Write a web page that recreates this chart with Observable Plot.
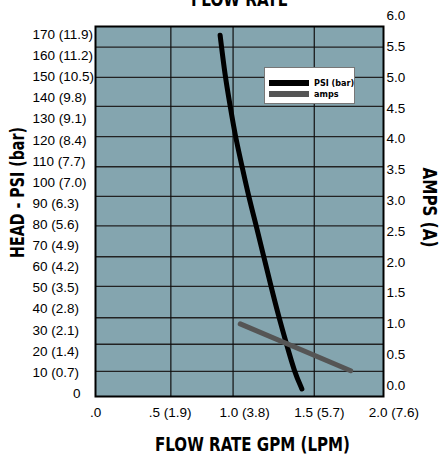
<!DOCTYPE html>
<html>
<head>
<meta charset="utf-8">
<script src="https://cdn.jsdelivr.net/npm/d3@7"></script>
<script src="https://cdn.jsdelivr.net/npm/@observablehq/plot@0.6"></script>
<style>
  html, body { margin: 0; padding: 0; background: #fff; }
  #wrap { position: relative; width: 439px; height: 454px; overflow: hidden; }
  .legend { position: absolute; left: 264px; top: 67px; width: 91px; height: 37px;
    background: #fff; border: 1px solid #777; box-sizing: border-box;
    font-family: "DejaVu Sans Condensed", "Liberation Sans", sans-serif;
    font-weight: bold; font-size: 9px; color: #000; white-space: nowrap; }
  .legend .row { position: absolute; left: 4px; height: 12px; line-height: 12px; display: flex; align-items: center; }
  .legend .sw { width: 40px; height: 6px; margin-right: 5px; flex: none; }
</style>
</head>
<body>
<div id="wrap"></div>
<script>
// Flow rate (GPM) ticks and labels
const flowTicks = [0, 0.5, 1.0, 1.5, 2.0];
const flowLabels = [".0", ".5 (1.9)", "1.0 (3.8)", "1.5 (5.7)", "2.0 (7.6)"];
// Head (PSI) ticks and labels (bar)
const psiTicks = [170, 160, 150, 140, 130, 120, 110, 100, 90, 80, 70, 60, 50, 40, 30, 20, 10];
const psiLabels = ["170 (11.9)", "160 (11.2)", "150 (10.5)", "140 (9.8)", "130 (9.1)", "120 (8.4)",
  "110 (7.7)", "100 (7.0)", "90 (6.3)", "80 (5.6)", "70 (4.9)", "60 (4.2)", "50 (3.5)",
  "40 (2.8)", "30 (2.1)", "20 (1.4)", "10 (0.7)"];
const psiZero = [0];
// Amps ticks
const ampTicks = [6.0, 5.5, 5.0, 4.5, 4.0, 3.5, 3.0, 2.5, 2.0, 1.5, 1.0, 0.5, 0.0];
// Grid lines as drawn in the source chart
const gridFlow = [0.505, 0.922, 1.466];
const gridAmps = [5.49, 5.0, 4.53, 4.04, 3.55, 3.07, 2.59, 2.09, 1.61, 1.10, 0.67, 0.23];
// PSI curve
const psiFlow = [0.835, 0.868, 0.902, 0.936, 0.981, 1.025, 1.077, 1.126, 1.175, 1.226, 1.283, 1.334, 1.383];
const psiHead = [169.8, 150.6, 136.4, 122.2, 108.0, 93.8, 79.5, 65.3, 51.1, 36.9, 22.7, 10.1, 2.2];
// Amps line
const ampFlow = [0.97, 1.71];
const ampValue = [1.0, 0.24];

// secondary-axis conversion: PSI expressed on the amps scale
const psiToAmps = p => (p - 3.79) / 29.2;

const psiData = psiFlow.map((f, i) => ({flow: f, psi: psiHead[i]}));
const ampData = ampFlow.map((f, i) => ({flow: f, amps: ampValue[i]}));
const psiTickData = psiTicks.map((p, i) => ({psi: p, label: psiLabels[i]}));
const flowTickData = flowTicks.map((f, i) => ({flow: f, label: flowLabels[i]}));

const tickFont = "'Liberation Sans', Arial, sans-serif";
const boldFont = "'DejaVu Sans Condensed', 'Liberation Sans', sans-serif";

const chart = Plot.plot({
  width: 439, height: 454,
  marginLeft: 95, marginRight: 56, marginTop: 26, marginBottom: 58,
  x: {domain: [0, 1.93], axis: null},
  y: {domain: [-0.178, 5.826], axis: null},
  style: {background: "#fff", fontFamily: tickFont},
  marks: [
    Plot.frame({fill: "#84a5af", stroke: "none"}),
    Plot.ruleY(gridAmps, {stroke: "#222", strokeWidth: 1.3}),
    Plot.ruleX(gridFlow, {stroke: "#111", strokeWidth: 1.2}),
    Plot.frame({stroke: "#000", strokeWidth: 2}),
    Plot.line(psiData, {x: "flow", y: d => psiToAmps(d.psi), stroke: "#000", strokeWidth: 5, curve: "basis"}),
    Plot.line(ampData, {x: "flow", y: "amps", stroke: "#555", strokeWidth: 5}),
    // left tick labels
    Plot.text(psiTickData, {y: d => psiToAmps(d.psi), text: "label", frameAnchor: "left", textAnchor: "start", dx: -63, fontSize: 13.5, fill: "#000"}),
    Plot.text(psiZero, {y: d => psiToAmps(d), text: d => String(d), frameAnchor: "left", textAnchor: "end", dx: -15, fontSize: 13.5, fill: "#000"}),
    // right tick labels
    Plot.text(ampTicks, {y: d => d, text: d => d.toFixed(1), frameAnchor: "right", textAnchor: "start", dx: 3, fontSize: 13.5, fill: "#000"}),
    // bottom tick labels
    Plot.text(flowTickData, {x: "flow", text: "label", frameAnchor: "bottom", lineAnchor: "top", dy: 11, fontSize: 13.5, fill: "#000"}),
    // titles
    Plot.text(["FLOW RATE"], {frameAnchor: "top", textAnchor: "middle", lineAnchor: "bottom", dy: -21, fontSize: 19, fontWeight: "bold", fontFamily: boldFont, fill: "#000"}),
    Plot.text(["FLOW RATE GPM (LPM)"], {frameAnchor: "bottom", textAnchor: "middle", lineAnchor: "bottom", dy: 54, dx: 13, fontSize: 19, fontWeight: "bold", fontFamily: boldFont, fill: "#000"}),
    Plot.text(["HEAD - PSI (bar)"], {frameAnchor: "left", textAnchor: "middle", rotate: -90, dx: -78, dy: -19, fontSize: 19, fontWeight: "bold", fontFamily: boldFont, fill: "#000"}),
    Plot.text(["AMPS (A)"], {frameAnchor: "right", textAnchor: "middle", rotate: 90, dx: 46, dy: -4, fontSize: 19, fontWeight: "bold", fontFamily: boldFont, fill: "#000"})
  ]
});

// compress the condensed bold titles to the width they have in the source chart
const titleWidths = {"FLOW RATE": 97, "FLOW RATE GPM (LPM)": 195, "HEAD - PSI (bar)": 131, "AMPS (A)": 80};
d3.select(chart).selectAll("text").each(function() {
  const w = titleWidths[this.textContent];
  if (w) d3.select(this).attr("textLength", w).attr("lengthAdjust", "spacingAndGlyphs");
});

const wrap = document.getElementById("wrap");
wrap.appendChild(chart);
const legend = document.createElement("div");
legend.className = "legend";
legend.innerHTML = `
  <div class="row" style="top:9px"><div class="sw" style="background:#000"></div><span>PSI (bar)</span></div>
  <div class="row" style="top:20px"><div class="sw" style="background:#555"></div><span>amps</span></div>`;
wrap.appendChild(legend);
</script>
</body>
</html>
